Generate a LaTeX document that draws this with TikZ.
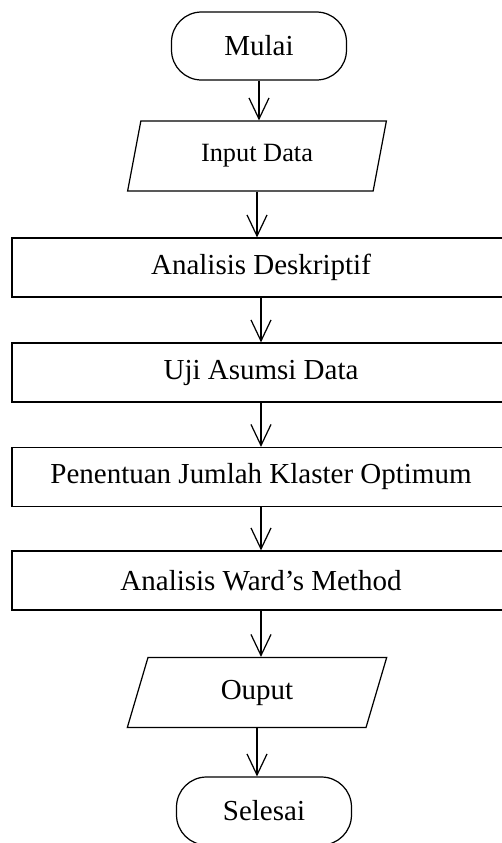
\documentclass[tikz,border=0pt]{standalone}
\usepackage{fontspec}
\setmainfont{Liberation Serif}
\usetikzlibrary{shapes.geometric,arrows.meta}

\begin{document}
\begin{tikzpicture}[x=0.02cm,y=-0.02cm,
    every path/.style={line width=0.7pt},
    every node/.style={font=\fontsize{16.5}{20}\selectfont},
    >={Straight Barb[length=0.42cm,width=0.4cm]},
    terminal/.style={draw,rounded corners=0.6cm,minimum width=3.5cm,minimum height=1.36cm},
    io/.style={draw,trapezium,trapezium left angle=76,trapezium right angle=104,
      trapezium stretches=true,minimum width=5.2cm,minimum height=1.4cm,inner sep=1pt},
    process/.style={draw,minimum width=9.96cm,minimum height=1.18cm,inner sep=0pt}]
          \useasboundingbox (0,0) rectangle (502,843);

          \node[terminal] (Mul) at (259,46) {Mulai};
          \node[io,font=\fontsize{15}{18}\selectfont] (Inp) at (257,156) {Input Data};
          \node[process] (Des) at (261,267.5) {Analisis Deskriptif};
          \node[process] (Uji) at (261,372.5) {Uji Asumsi Data};
          \node[process] (Jml) at (261,477) {Penentuan Jumlah Klaster Optimum};
          \node[process] (Ward) at (261,580.5) {Analisis Ward’s Method};
          \node[io] (Out) at (257,692.5) {Ouput};
          \node[terminal] (Sel) at (264,811) {Selesai};

          \draw[->] (Mul.south) -- (Mul.south |- Inp.north);
          \draw[->] (Inp.south) -- (Inp.south |- Des.north);
          \draw[->] (Des.south) -- (Des.south |- Uji.north);
          \draw[->] (Uji.south) -- (Uji.south |- Jml.north);
          \draw[->] (Jml.south) -- (Jml.south |- Ward.north);
          \draw[->] (Ward.south) -- (Ward.south |- Out.north);
          \draw[->] (Out.south) -- (Out.south |- Sel.north);
        \end{tikzpicture}
\end{document}
